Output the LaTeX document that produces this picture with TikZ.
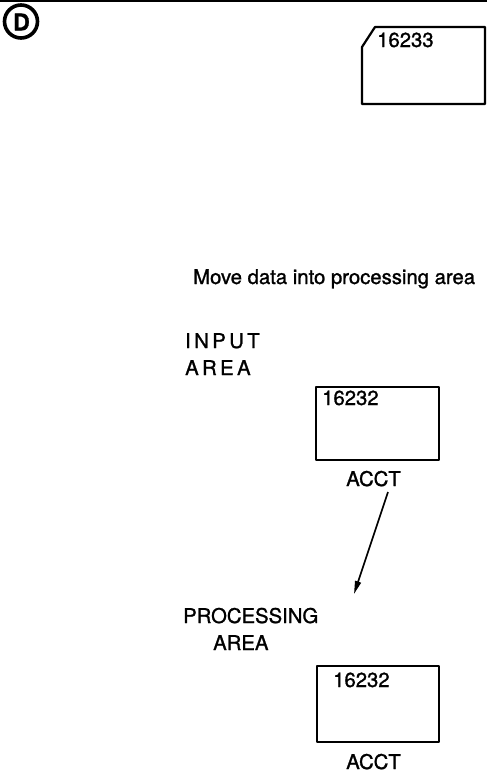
\documentclass[tikz,border=0pt]{standalone}
\usepackage{fontspec}
\setmainfont{TeX Gyre Heros}[FakeBold=1.2]
\usetikzlibrary{arrows.meta}
\begin{document}
\begin{tikzpicture}[x=1pt,y=-1pt,
  lbl/.style={inner sep=0pt,font=\fontsize{20.3}{22}\selectfont},
  boxline/.style={draw,line width=2.2pt,line join=round},
  conn/.style={line width=1.7pt,-{Triangle[length=13pt,width=6pt]}}]
\useasboundingbox (0,0) rectangle (487,772);
% top rule
\coordinate (tl) at (0,1.2);
\coordinate (tr) at (487,1.2);
\draw[line width=2.4pt] (tl) -- (tr);
% circled D
\node (circ) [circle,draw,line width=3.6pt,minimum size=33pt,inner sep=0pt] at (21,21.5) {};
\node (dl) [lbl,font=\fontsize{23}{24}\selectfont\bfseries] at (21.5,22) {D};
% top card with cut corner
\draw[boxline] (362,47) -- (375,27) -- (485,27) -- (485,104) -- (362,104) -- cycle;
\node (t1) [lbl,anchor=base west] at (377,47) {16233};
% caption
\node (cap) [lbl,anchor=base west] at (193,284) {Move data into processing area};
% input area
\node (in1) [lbl,anchor=base west] at (185,348) {I\,N\,P\,U\,T};
\node (in2) [lbl,anchor=base west] at (185,375) {A\,R\,E\,A};
\node (inbox) [boxline,minimum width=123pt,minimum height=73pt,inner sep=0pt] at (377.5,423.5) {};
\node (inval) [lbl,anchor=base west] at (322,405) {16232};
\node (acct1) [lbl,anchor=base] at (373.5,486) {ACCT};
% arrow
\coordinate (a1) at (388,492);
\coordinate (a2) at (354,594);
\draw[conn] (a1) -- (a2);
% processing area
\node (pr1) [lbl,anchor=base west] at (183,623) {PROCESSING};
\node (pr2) [lbl,anchor=base west] at (213,650) {AREA};
\node (prbox) [boxline,minimum width=122pt,minimum height=76pt,inner sep=0pt] at (378,704) {};
\node (prval) [lbl,anchor=base west] at (333,687) {16232};
\node (acct2) [lbl,anchor=base] at (373.5,769) {ACCT};
\end{tikzpicture}
\end{document}
